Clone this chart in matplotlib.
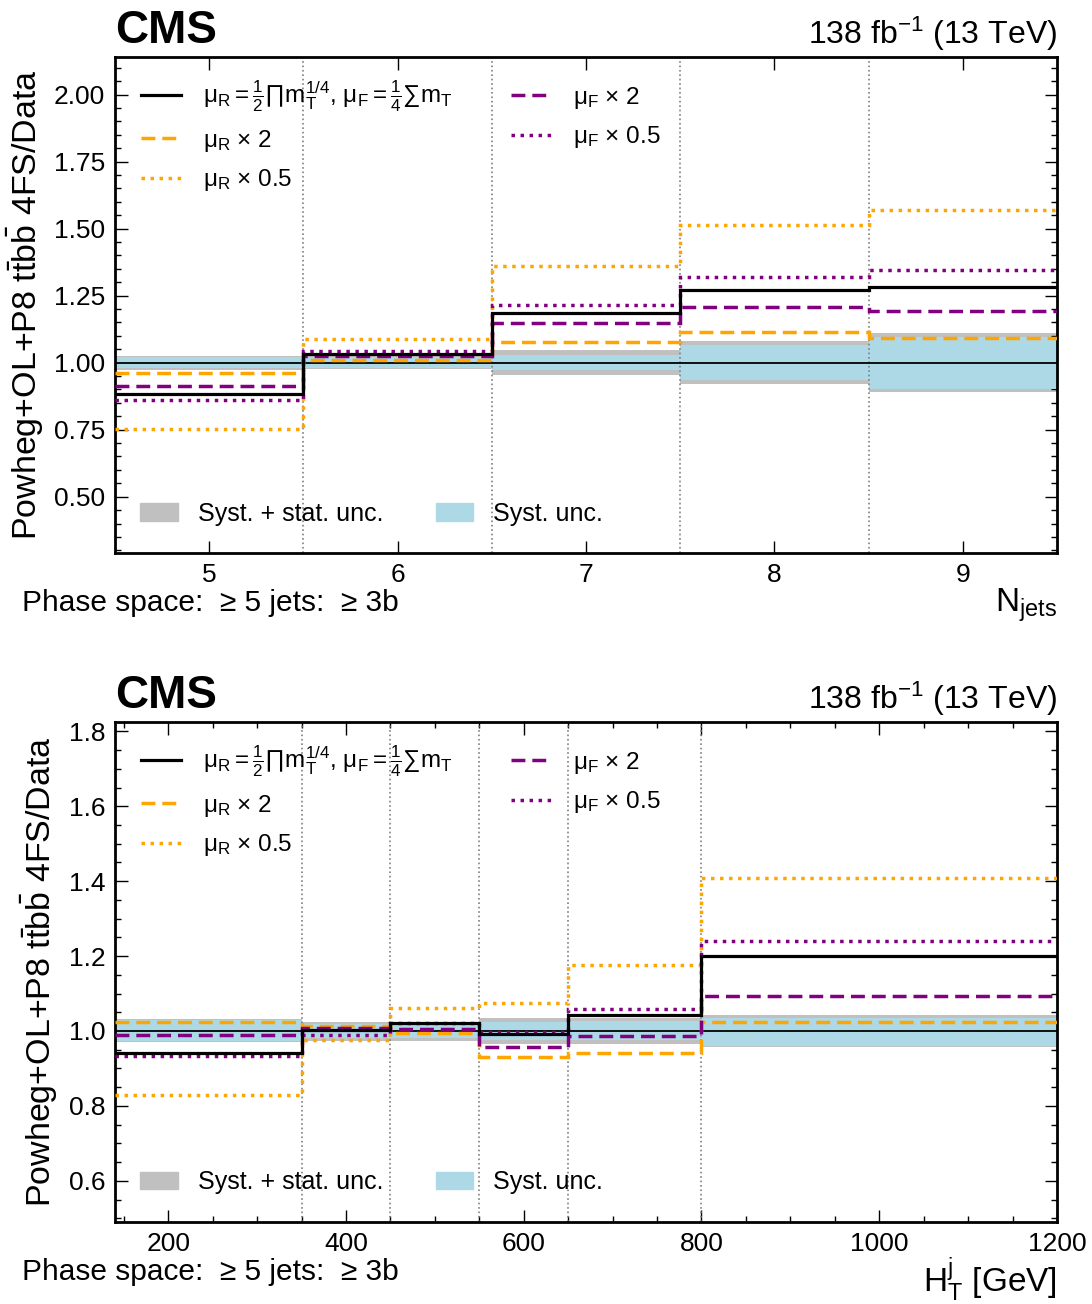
import matplotlib
matplotlib.use("Agg")

import matplotlib.pyplot as plt
from matplotlib.patches import Patch
from matplotlib.lines import Line2D
from matplotlib.ticker import MultipleLocator, FormatStrFormatter

plt.rcParams["font.family"] = ["Liberation Sans", "DejaVu Sans"]
plt.rcParams["mathtext.fontset"] = "custom"
plt.rcParams["mathtext.rm"] = "Liberation Sans"
plt.rcParams["mathtext.it"] = "Liberation Sans:italic"
plt.rcParams["mathtext.bf"] = "Liberation Sans:bold"
plt.rcParams["mathtext.default"] = "regular"

# -----------------------------
# N_jets panel
# -----------------------------
njets_edges = [4.5, 5.5, 6.5, 7.5, 8.5, 9.5]
njets_nominal = [0.884, 1.034, 1.185, 1.271, 1.284]
njets_mur_up = [0.960, 1.009, 1.078, 1.116, 1.091]
njets_mur_down = [0.754, 1.088, 1.362, 1.515, 1.571]
njets_muf_up = [0.912, 1.026, 1.147, 1.206, 1.194]
njets_muf_down = [0.861, 1.045, 1.215, 1.318, 1.347]
njets_tot_up = [1.026, 1.025, 1.046, 1.082, 1.111]
njets_tot_down = [0.974, 0.975, 0.955, 0.920, 0.891]
njets_syst_up = [1.021, 1.020, 1.030, 1.065, 1.096]
njets_syst_down = [0.979, 0.980, 0.971, 0.937, 0.902]

# -----------------------------
# H_T^j panel
# -----------------------------
ht_edges = [140, 350, 450, 550, 650, 800, 1200]
ht_nominal = [0.941, 1.003, 1.020, 0.993, 1.042, 1.201]
ht_mur_up = [1.025, 1.014, 0.994, 0.931, 0.942, 1.025]
ht_mur_down = [0.829, 0.976, 1.061, 1.075, 1.175, 1.408]
ht_muf_up = [0.988, 1.007, 1.006, 0.958, 0.987, 1.093]
ht_muf_down = [0.932, 0.990, 1.020, 0.996, 1.059, 1.241]
ht_tot_up = [1.031, 1.025, 1.025, 1.036, 1.035, 1.042]
ht_tot_down = [0.970, 0.973, 0.973, 0.964, 0.964, 0.958]
ht_syst_up = [1.028, 1.019, 1.019, 1.024, 1.027, 1.035]
ht_syst_down = [0.973, 0.980, 0.980, 0.975, 0.975, 0.960]

ORANGE = "#FFA500"
PURPLE = "#800080"
GREY = "#C0C0C0"
CYAN = "#ADD8E6"

LABEL_NOM = (r"$\mu_{R} = \frac{1}{2}\prod m_{T}^{1/4}$, "
             r"$\mu_{F} = \frac{1}{4}\sum m_{T}$")
YLABEL = r"Powheg+OL+P8 $t\bar{t}b\bar{b}$ 4FS/Data"
DASHED = (0, (4, 2))
DOTTED = (0, (1, 1.6))


def draw_panel(ax, edges, nom, mur_up, mur_down, muf_up, muf_down,
               tot_up, tot_down, syst_up, syst_down, ylim, xlabel):
    ax.stairs(tot_up, edges, baseline=tot_down, fill=True,
              color=GREY, lw=0, zorder=1)
    ax.stairs(syst_up, edges, baseline=syst_down, fill=True,
              color=CYAN, lw=0, zorder=2)
    ax.axhline(1.0, color="black", lw=1.3, zorder=3)

    for e in edges[1:-1]:
        ax.axvline(e, color="grey", ls=":", lw=1.2, zorder=2.5)

    ax.stairs(mur_up, edges, baseline=None, color=ORANGE, ls=DASHED,
              lw=2.5, zorder=4)
    ax.stairs(mur_down, edges, baseline=None, color=ORANGE, ls=DOTTED,
              lw=2.5, zorder=4)
    ax.stairs(muf_up, edges, baseline=None, color=PURPLE, ls=DASHED,
              lw=2.5, zorder=4)
    ax.stairs(muf_down, edges, baseline=None, color=PURPLE, ls=DOTTED,
              lw=2.5, zorder=4)
    ax.stairs(nom, edges, baseline=None, color="black", lw=2.3, zorder=5)

    ax.set_xlim(edges[0], edges[-1])
    ax.set_ylim(*ylim)

    ax.tick_params(which="both", direction="in", top=True, right=True,
                   labelsize=19)
    ax.tick_params(which="major", length=9, width=1.0, pad=7)
    ax.tick_params(which="minor", length=4.5, width=1.0)
    for s in ax.spines.values():
        s.set_linewidth(2)

    ax.set_ylabel(YLABEL, fontsize=24.5, labelpad=6)
    ax.set_xlabel(xlabel, fontsize=24, loc="right", labelpad=0)

    ax.text(-0.099, -0.10, "Phase space:  \u2265 5 jets:  \u2265 3b",
            transform=ax.transAxes, fontsize=21.5, va="center", ha="left")
    ax.text(0.0, 1.008, "CMS", transform=ax.transAxes, fontsize=33,
            fontweight="bold", va="bottom", ha="left")
    ax.text(1.0, 1.008, r"138 fb$^{-1}$ (13 TeV)", transform=ax.transAxes,
            fontsize=23, va="bottom", ha="right")

    handles = [
        Line2D([], [], color="black", lw=2.3),
        Line2D([], [], color=ORANGE, ls=DASHED, lw=2.5),
        Line2D([], [], color=ORANGE, ls=DOTTED, lw=2.5),
        Line2D([], [], color=PURPLE, ls=DASHED, lw=2.5),
        Line2D([], [], color=PURPLE, ls=DOTTED, lw=2.5),
    ]
    labels = [LABEL_NOM, r"$\mu_{R}$ $\times$ 2", r"$\mu_{R}$ $\times$ 0.5",
              r"$\mu_{F}$ $\times$ 2", r"$\mu_{F}$ $\times$ 0.5"]
    leg = ax.legend(handles, labels, ncol=2, loc="upper left",
                    frameon=False, fontsize=17.5, handlelength=1.65,
                    handletextpad=0.9, columnspacing=2.4,
                    labelspacing=0.55, bbox_to_anchor=(0.004, 1.0))
    ax.add_artist(leg)

    band_handles = [Patch(color=GREY), Patch(color=CYAN)]
    ax.legend(band_handles, ["Syst. + stat. unc.", "Syst. unc."], ncol=2,
              loc="lower left", frameon=False, fontsize=18,
              handlelength=1.5, handletextpad=0.8, columnspacing=2.1,
              bbox_to_anchor=(0.003, 0.01))


fig = plt.figure(figsize=(10.92, 13.04), dpi=100)
ax1 = fig.add_axes([0.1053, 0.5759, 0.8626, 0.3804])
ax2 = fig.add_axes([0.1053, 0.0629, 0.8626, 0.3834])

draw_panel(ax1, njets_edges, njets_nominal, njets_mur_up, njets_mur_down,
           njets_muf_up, njets_muf_down, njets_tot_up, njets_tot_down,
           njets_syst_up, njets_syst_down, (0.29, 2.14), r"N$_{jets}$")
ax1.yaxis.set_major_locator(MultipleLocator(0.25))
ax1.yaxis.set_minor_locator(MultipleLocator(0.05))
ax1.yaxis.set_major_formatter(FormatStrFormatter("%.2f"))
ax1.xaxis.set_major_locator(MultipleLocator(1))

draw_panel(ax2, ht_edges, ht_nominal, ht_mur_up, ht_mur_down,
           ht_muf_up, ht_muf_down, ht_tot_up, ht_tot_down,
           ht_syst_up, ht_syst_down, (0.49, 1.825), r"H$_{T}^{j}$ [GeV]")
ax2.yaxis.set_major_locator(MultipleLocator(0.2))
ax2.yaxis.set_minor_locator(MultipleLocator(0.05))
ax2.yaxis.set_major_formatter(FormatStrFormatter("%.1f"))
ax2.xaxis.set_major_locator(MultipleLocator(200))
ax2.xaxis.set_minor_locator(MultipleLocator(50))

fig.savefig("out.png", dpi=100)
plt.close(fig)
